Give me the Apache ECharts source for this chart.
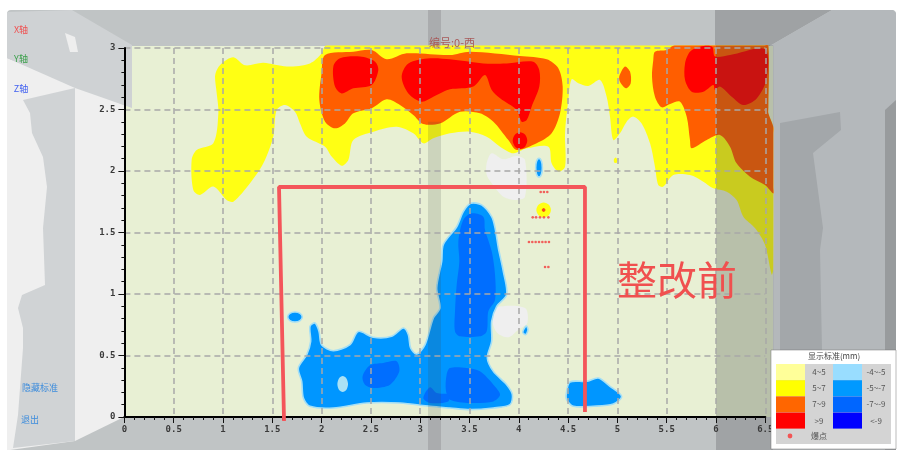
<!DOCTYPE html>
<html><head><meta charset="utf-8">
<style>html,body{margin:0;padding:0;background:#fff}#c{width:900px;height:456px;filter:blur(0.65px)}</style>
<script src="https://cdn.jsdelivr.net/npm/echarts@6/dist/echarts.min.js"></script></head>
<body><div id="c"></div>
<script>
const xTicks=[0,0.5,1,1.5,2,2.5,3,3.5,4,4.5,5,5.5,6,6.5];
const yTicks=[0,0.5,1,1.5,2,2.5,3];
// deformation contours, [distance along wall (m), height (m)]
const yellowMain=[[0.936,2.82],[0.986,2.875],[1.105,2.925],[1.223,2.86],[1.409,2.88],[1.646,2.85],[1.882,2.875],[2.0,2.955],[2.035,3.016],[2.1,3.02],[3.5,3.02],[5,3.02],[6.48,3.02],[6.53,3.02],[6.53,2.5],[6.53,2.47],[6.58,2.36],[6.58,2.3],[6.58,1.2],[6.565,1.157],[6.497,1.4],[6.395,1.537],[6.277,1.629],[6.209,1.764],[6.108,1.832],[5.972,1.859],[5.871,1.913],[5.736,1.967],[5.567,1.967],[5.466,1.873],[5.415,1.886],[5.381,2.035],[5.331,2.225],[5.246,2.387],[5.162,2.442],[5.094,2.401],[5.026,2.306],[4.959,2.252],[4.925,2.442],[4.891,2.604],[4.824,2.74],[4.705,2.691],[4.604,2.713],[4.536,2.745],[4.502,2.577],[4.469,2.306],[4.469,2.035],[4.401,1.995],[4.333,2.062],[4.3,2.198],[4.08,2.184],[3.945,2.144],[3.81,2.198],[3.674,2.279],[3.505,2.32],[3.302,2.306],[3.133,2.266],[3.032,2.225],[2.93,2.306],[2.761,2.36],[2.525,2.32],[2.322,2.252],[2.271,2.09],[2.203,2.043],[2.102,2.117],[2.035,2.198],[1.849,2.279],[1.781,2.387],[1.73,2.482],[1.629,2.537],[1.544,2.496],[1.51,2.279],[1.409,2.062],[1.274,1.9],[1.105,1.751],[1.037,1.764],[0.902,1.873],[0.767,1.805],[0.699,1.845],[0.682,2.09],[0.733,2.171],[0.902,2.225],[0.953,2.469],[0.936,2.632],[0.919,2.767]];
const yellowDot=[[4.983,2.11],[5.0,2.09],[4.99,2.065],[4.968,2.07],[4.965,2.095]];
const yellowSpot=[[4.252,1.743],[4.305,1.725],[4.326,1.683],[4.305,1.641],[4.252,1.623],[4.2,1.641],[4.178,1.683],[4.2,1.725]];
const orangeMain=[[2.035,2.943],[2.322,2.97],[2.508,2.984],[2.66,2.908],[2.863,2.957],[3.302,2.943],[3.505,2.97],[4.012,2.935],[4.283,2.908],[4.401,2.835],[4.445,2.686],[4.418,2.469],[4.333,2.306],[4.181,2.225],[3.978,2.171],[3.894,2.252],[3.742,2.401],[3.606,2.469],[3.404,2.482],[3.2,2.387],[3.03,2.382],[2.93,2.455],[2.795,2.537],[2.66,2.583],[2.508,2.51],[2.322,2.469],[2.237,2.387],[2.136,2.347],[2.035,2.401],[1.977,2.577],[2.0,2.794]];
const orangeRight=[[5.381,2.97],[5.5,2.984],[5.56,3.016],[5.62,3.02],[6.48,3.02],[6.531,3.02],[6.531,2.52],[6.531,2.469],[6.581,2.36],[6.581,2.3],[6.581,1.87],[6.581,1.818],[6.497,1.886],[6.345,1.954],[6.209,2.062],[6.142,2.198],[6.04,2.293],[5.905,2.252],[5.753,2.184],[5.736,2.252],[5.703,2.442],[5.635,2.564],[5.534,2.545],[5.449,2.518],[5.381,2.604],[5.351,2.767],[5.364,2.902]];
const orangeDrop=[[5.077,2.85],[5.128,2.808],[5.135,2.713],[5.087,2.672],[5.026,2.726],[5.02,2.772]];
const orangeCore=[[4.252,1.70],[4.272,1.683],[4.252,1.666],[4.232,1.683]];
const redA=[[2.119,2.85],[2.187,2.916],[2.389,2.93],[2.542,2.889],[2.575,2.82],[2.508,2.7],[2.322,2.672],[2.203,2.631],[2.136,2.686]];
const redB=[[2.812,2.767],[2.88,2.875],[3.099,2.916],[3.302,2.908],[3.64,2.875],[3.877,2.875],[4.147,2.889],[4.208,2.82],[4.208,2.686],[4.13,2.523],[4.08,2.415],[4.029,2.401],[3.978,2.496],[3.81,2.591],[3.725,2.659],[3.657,2.78],[3.539,2.686],[3.302,2.664],[3.235,2.645],[3.133,2.604],[3.015,2.564],[2.88,2.631]];
const redDot=[[4.012,2.315],[4.065,2.295],[4.086,2.247],[4.065,2.2],[4.012,2.179],[3.96,2.2],[3.938,2.247],[3.96,2.295]];
const redRight=[[5.686,2.875],[5.736,2.97],[5.838,3.01],[5.96,3.01],[5.99,2.93],[6.142,2.943],[6.497,2.989],[6.514,2.753],[6.413,2.59],[6.277,2.537],[6.159,2.604],[6.04,2.686],[5.99,2.659],[5.973,2.7],[5.871,2.645],[5.753,2.645],[5.686,2.74]];
const blueMain=[[1.764,0.398],[1.849,0.507],[1.889,0.615],[1.882,0.737],[1.933,0.764],[1.974,0.696],[2.0,0.588],[2.119,0.539],[2.288,0.588],[2.372,0.696],[2.525,0.648],[2.71,0.656],[2.829,0.724],[2.88,0.669],[2.903,0.561],[2.964,0.512],[3.049,0.588],[3.133,0.805],[3.2,0.886],[3.167,1.049],[3.218,1.266],[3.235,1.403],[3.37,1.547],[3.437,1.669],[3.512,1.737],[3.623,1.724],[3.725,1.629],[3.759,1.537],[3.793,1.374],[3.843,1.184],[3.877,0.995],[3.776,0.9],[3.725,0.778],[3.725,0.615],[3.681,0.48],[3.742,0.371],[3.877,0.263],[3.935,0.182],[3.911,0.1],[3.742,0.073],[3.505,0.06],[3.302,0.073],[3.099,0.087],[2.795,0.114],[2.457,0.114],[2.119,0.073],[1.882,0.087],[1.815,0.154],[1.798,0.29]];
const blueRight=[[4.485,0.209],[4.519,0.285],[4.688,0.29],[4.807,0.317],[4.925,0.249],[5.043,0.168],[4.959,0.106],[4.756,0.087],[4.553,0.087],[4.485,0.141]];
const blueSpotLeft=[[1.73,0.854],[1.782,0.842],[1.804,0.813],[1.782,0.784],[1.73,0.772],[1.678,0.784],[1.656,0.813],[1.678,0.842]];
const blueDropTop=[[4.205,2.103],[4.23,2.08],[4.239,2.027],[4.23,1.974],[4.205,1.951],[4.18,1.974],[4.171,2.027],[4.18,2.08]];
const blueDropLow=[[4.075,0.74],[4.093,0.71],[4.07,0.67],[4.04,0.69]];
const deepSpire=[[3.522,1.656],[3.64,1.629],[3.657,1.523],[3.725,1.347],[3.759,1.157],[3.759,0.954],[3.691,0.859],[3.674,0.696],[3.606,0.656],[3.404,0.656],[3.353,0.696],[3.353,0.859],[3.37,1.076],[3.397,1.266],[3.387,1.428],[3.437,1.601]];
const deepBase=[[3.268,0.344],[3.302,0.398],[3.471,0.398],[3.606,0.371],[3.742,0.263],[3.81,0.182],[3.742,0.127],[3.505,0.114],[3.302,0.141],[3.26,0.22]];
const deepLow=[[3.032,0.154],[3.099,0.241],[3.167,0.195],[3.285,0.182],[3.285,0.127],[3.099,0.114]];
const deepCentre=[[2.416,0.331],[2.49,0.42],[2.626,0.439],[2.761,0.453],[2.788,0.371],[2.694,0.263],[2.525,0.236],[2.44,0.263]];
const paleBlueSpot=[[2.214,0.333],[2.252,0.314],[2.268,0.268],[2.252,0.222],[2.214,0.203],[2.176,0.222],[2.16,0.268],[2.176,0.314]];
const noDataA=[[3.674,2.062],[3.725,2.144],[3.843,2.095],[3.978,2.122],[4.063,2.089],[4.063,1.79],[3.961,1.764],[3.843,1.79],[3.725,1.9],[3.674,1.967]];
const noDataB=[[3.725,0.818],[3.776,0.892],[4.063,0.886],[4.087,0.764],[3.995,0.71],[3.894,0.648],[3.776,0.69]];
// burst points
const burstPoints=[[4.222,1.829],[4.255,1.829],[4.289,1.829],[4.252,1.683],[4.141,1.623],[4.175,1.623],[4.215,1.623],[4.255,1.623],[4.3,1.623],[4.103,1.423],[4.137,1.423],[4.171,1.423],[4.205,1.423],[4.239,1.423],[4.272,1.423],[4.306,1.423],[4.266,1.22],[4.3,1.22]];
// hand-drawn rectangle
const frameLine=[[1.619,-0.033],[1.568,1.87],[4.671,1.87],[4.671,0.04]];
// translucent room columns seen through the plot: from x, to x, top height, alpha
const columnBands=[[3.079,3.211,2.4,0.16],[6.0,6.58,3.02,0.28]];
const legendLeft=['4~5','5~7','7~9','>9'];
const legendRight=['-4~-5','-5~-7','-7~-9','<-9'];
const legendLeftColors=['#ffff99','#ffff00','#ff6600','#ff0000'];
const legendRightColors=['#99ddff','#0099ff','#0066ff','#0000ff'];

const YEL='#ffff14',ORG='#ff5e00',RED='#ff0000',BLU='#0096ff',DEEP='#006eff',HALO='#a5dff5';
const layers=[
 [yellowMain,YEL],[yellowDot,YEL],[yellowSpot,YEL],
 [orangeMain,ORG],[orangeRight,ORG],[orangeDrop,ORG],[orangeCore,ORG],
 [redA,RED],[redB,RED],[redDot,RED],[redRight,RED],
 [noDataA,'#efefef'],[noDataB,'#efefef'],
 [blueMain,BLU,HALO],[blueRight,BLU,HALO],[blueSpotLeft,BLU,HALO],[blueDropTop,BLU,HALO],[blueDropLow,BLU,HALO],
 [deepSpire,DEEP],[deepBase,DEEP],[deepLow,DEEP],[deepCentre,DEEP],[paleBlueSpot,'#aae1f5']
];
const series=layers.map(([pts,fill,stroke],i)=>({
 type:'custom',coordinateSystem:'cartesian2d',clip:false,silent:true,z:2+i*0.001,
 data:pts,encode:{x:0,y:1},
 renderItem(params,api){
  if(params.dataIndex!==0)return null;
  return {type:'polygon',shape:{points:pts.map(p=>api.coord(p)),smooth:0.3},
   style:{fill,stroke:stroke||null,lineWidth:stroke?1.6:0}};
 }
}));
series.push({type:'custom',coordinateSystem:'cartesian2d',clip:false,silent:true,z:3,
 data:columnBands,encode:{x:[0,1]},
 renderItem(params,api){
  const a=api.coord([api.value(0),0]),b=api.coord([api.value(1),api.value(2)]);
  return {type:'rect',shape:{x:a[0],y:b[1],width:b[0]-a[0],height:a[1]-b[1]},style:{fill:'rgba(60,70,60,'+api.value(3)+')'}};
 }});
series.push({type:'scatter',data:burstPoints,symbol:'circle',symbolSize:2.6,itemStyle:{color:'#f23c3c'},z:4,silent:true});
series.push({type:'line',data:frameLine,symbol:'none',clip:false,silent:true,z:10,lineStyle:{color:'#f4555a',width:3.8}});

const poly=(points,fill,z)=>({type:'polygon',z:z||0,silent:true,shape:{points},style:{fill}});
const txt=(x,y,text,fill,size,extra)=>Object.assign({type:'text',x,y,z:20,silent:true,style:{text,fill,font:(size||9)+'px "Noto Sans CJK SC",sans-serif',align:'center',verticalAlign:'middle'}},extra||{});
const graphic=[
 {type:'rect',z:-5,silent:true,shape:{x:7,y:10,width:889,height:440,r:4},style:{fill:'#c0c4c5'}},
 poly([[7,58],[124,105],[124,417],[75,441],[10,450],[7,450]],'#efefef',-4),
 poly([[23,100],[30,113],[32,133],[43,157],[47,187],[43,228],[45,285],[22,295],[18,308],[23,328],[23,348],[20,388],[18,415],[13,448],[75,441],[75,88]],'#d0d3d5',-3),
 {type:'rect',z:-3,silent:true,shape:{x:125,y:46,width:648,height:371},style:{fill:'#e8f0d4'}},
 poly([[7,12],[72,10],[132,45],[132,108],[75,88],[7,58]],'#cfd2d4',-2),
 poly([[65,33],[75,37],[78,52],[70,52]],'#eeeeee',-1),
 {type:'rect',z:-2,silent:true,shape:{x:428,y:10,width:13,height:36},style:{fill:'#aaacae'}},
 {type:'rect',z:-2,silent:true,shape:{x:428,y:417,width:13,height:33},style:{fill:'#aaacae'}},
 poly([[715,10],[832,10],[768,47],[715,47]],'#9fa2a4',-4),
 poly([[832,10],[893,10],[896,13],[896,450],[773,450],[773,120],[768,110],[768,47]],'#b4b8bb',-4),
 poly([[780,123],[840,112],[841,130],[813,153],[823,228],[820,250],[822,350],[780,350]],'#a3a7aa',-3),
 poly([[885,110],[896,100],[896,450],[885,450]],'#989b9d',-3),
 {type:'rect',z:-3,silent:true,shape:{x:716,y:417,width:57,height:33},style:{fill:'#a0a3a5'}},
 txt(21,30,'X轴','#f05050',9), txt(21,59,'Y轴','#3aa04a',9), txt(21,89,'Z轴','#4060f0',9),
 txt(40,388,'隐藏标准','#3c8cdc',9), txt(30,420,'退出','#3c8cdc',9),
 txt(452,43,'编号:0-西','#a85a5a',11),
 txt(677,280,'整改前','#f0504f',40,{style:{text:'整改前',fill:'#f0504f',font:'40px "Noto Sans CJK SC",serif',align:'center',verticalAlign:'middle'}}),
 {type:'rect',z:15,silent:true,shape:{x:771,y:350,width:125,height:99},style:{fill:'#ffffff',stroke:'#777',lineWidth:0.5}},
 {type:'rect',z:16,silent:true,shape:{x:776,y:364,width:115,height:80},style:{fill:'#d4d4d4'}},
 txt(834,356,'显示标准(mm)','#444',8),
 {type:'circle',z:17,silent:true,shape:{cx:790,cy:436,r:2.4},style:{fill:'#f25555'}},
 txt(819,436,'爆点','#555',8)
];
legendLeft.forEach((t,i)=>{
 graphic.push({type:'rect',z:17,silent:true,shape:{x:776,y:364+i*16.2,width:29,height:16},style:{fill:legendLeftColors[i]}});
 graphic.push(txt(819,372+i*16.2,t,'#555',8));
});
legendRight.forEach((t,i)=>{
 graphic.push({type:'rect',z:17,silent:true,shape:{x:833,y:364+i*16.2,width:29,height:16},style:{fill:legendRightColors[i]}});
 graphic.push(txt(876,372+i*16.2,t,'#555',8));
});
const axisCommon={
 type:'value',z:6,interval:0.5,min:0,
 axisLine:{show:true,onZero:false,lineStyle:{color:'#000',width:2}},
 axisTick:{show:true,length:6,lineStyle:{color:'#111',width:1}},
 minorTick:{show:true,splitNumber:5,length:3,lineStyle:{color:'#111',width:1}},
 splitLine:{show:true,lineStyle:{color:'#a8a8a8',width:1.5,type:[6,4]}},
 axisLabel:{color:'#3a3a3a',fontFamily:'"DejaVu Sans Mono",monospace',fontWeight:'bold',fontSize:9,formatter:v=>String(v)}
};
const chart=echarts.init(document.getElementById('c'),null,{renderer:'canvas'});
chart.setOption({
 animation:false,backgroundColor:'#fff',
 grid:{left:124.4,top:48,width:640.9,height:369,containLabel:false},
 xAxis:Object.assign({},axisCommon,{max:xTicks[xTicks.length-1],axisLabel:Object.assign({},axisCommon.axisLabel,{margin:8})}),
 yAxis:Object.assign({},axisCommon,{max:yTicks[yTicks.length-1],axisLabel:Object.assign({},axisCommon.axisLabel,{margin:9})}),
 graphic,series
});
</script></body></html>
